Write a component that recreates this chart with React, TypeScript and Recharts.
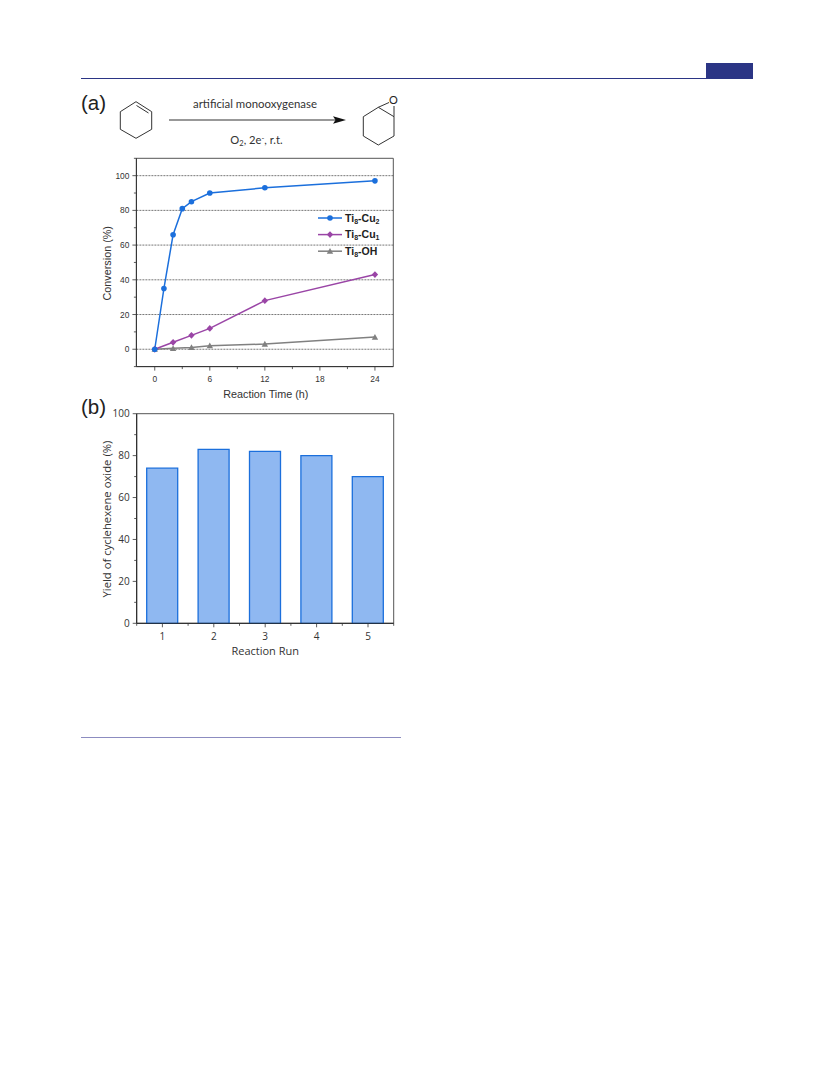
import React from 'react'
import {
  LineChart, Line, BarChart, Bar, XAxis, YAxis, CartesianGrid, ReferenceArea, Legend,
} from 'recharts'

// panel (a)
const timesCu2 = [0, 1, 2, 3, 4, 6, 12, 24]
const valuesCu2 = [0, 35, 66, 81, 85, 90, 93, 97]
const timesCu1 = [0, 2, 4, 6, 12, 24]
const valuesCu1 = [0, 4, 8, 12, 28, 43]
const timesOH = [0, 2, 4, 6, 12, 24]
const valuesOH = [0, 0.5, 1, 2, 3, 7]
const timeTicks = [0, 3, 6, 9, 12, 15, 18, 21, 24]
const timeLabels = [0, 6, 12, 18, 24]
const convTicks = [-10, 0, 10, 20, 30, 40, 50, 60, 70, 80, 90, 100, 110]
const convLabels = [0, 20, 40, 60, 80, 100]

// panel (b)
const runs = [1, 2, 3, 4, 5]
const yields = [74, 83, 82, 80, 70]
const runTicks = [0.5, 1, 1.5, 2, 2.5, 3, 3.5, 4, 4.5, 5, 5.5]
const runLabels = [1, 2, 3, 4, 5]
const yieldTicks = [0, 10, 20, 30, 40, 50, 60, 70, 80, 90, 100]
const yieldLabels = [0, 20, 40, 60, 80, 100]

const BLUE = '#1b6fdc'
const PURPLE = '#9a45a6'
const GRAY = '#808080'
const AXIS = '#333'
const NAVY = '#2b3585'
const ARIAL = '"Liberation Sans", Arial, sans-serif'
const SEGOE = '"Open Sans", sans-serif'
const CALIBRI = 'Lato, sans-serif'

const cu2Data = timesCu2.map((t, i) => ({ t, v: valuesCu2[i] }))
const cu1Data = timesCu1.map((t, i) => ({ t, v: valuesCu1[i] }))
const ohData = timesOH.map((t, i) => ({ t, v: valuesOH[i] }))
const runData = runs.map((r, i) => ({ r, v: yields[i] }))

const legendRows = [
  { sub: '2', tail: '', shape: 'circle', color: BLUE },
  { sub: '1', tail: '', shape: 'diamond', color: PURPLE },
  { sub: '', tail: 'OH', shape: 'triangle', color: GRAY },
]

function marker(shape: string, cx: number, cy: number, color: string, key?: any) {
  if (shape === 'diamond') {
    return <path key={key} d={`M${cx} ${cy - 3.4}L${cx + 3.2} ${cy}L${cx} ${cy + 3.4}L${cx - 3.2} ${cy}Z`} fill={color} />
  }
  if (shape === 'triangle') {
    return <path key={key} d={`M${cx} ${cy - 3.2}L${cx + 3.2} ${cy + 2.6}L${cx - 3.2} ${cy + 2.6}Z`} fill={color} />
  }
  return <circle key={key} cx={cx} cy={cy} r={2.8} fill={color} />
}

const dotOf = (shape: string, color: string) => (p: any) => marker(shape, p.cx, p.cy, color, p.index)

const xTick = (labels: number[], font: string, size: number, gap: number) => (p: any) => {
  const major = labels.includes(p.payload.value)
  return (
    <g>
      <line x1={p.x} x2={p.x} y1={p.y - 8} y2={p.y - 8 + (major ? 4 : 2.5)} stroke={AXIS} strokeWidth={0.8} />
      {major && (
        <text x={p.x} y={p.y + gap} textAnchor="middle" fontFamily={font} fontSize={size} fill="#333">
          {p.payload.value}
        </text>
      )}
    </g>
  )
}

const yTick = (labels: number[], font: string, size: number) => (p: any) => {
  const major = labels.includes(p.payload.value)
  return (
    <g>
      <line x1={p.x + 8} x2={p.x + 8 - (major ? 4 : 2.5)} y1={p.y} y2={p.y} stroke={AXIS} strokeWidth={0.8} />
      {major && (
        <text x={p.x + 1} y={p.y + size * 0.36} textAnchor="end" fontFamily={font} fontSize={size} fill="#333">
          {p.payload.value}
        </text>
      )}
    </g>
  )
}

function LegendBox() {
  return (
    <svg width={90} height={52} style={{ display: 'block' }}>
      {legendRows.map((row, i) => {
        const y = 8 + i * 16.6
        return (
          <g key={i}>
            <line x1={0} x2={24} y1={y} y2={y} stroke={row.color} strokeWidth={1.5} />
            {marker(row.shape, 12, y, row.color)}
            <text x={27} y={y + 3.6} fontFamily={ARIAL} fontSize={10.5} fontWeight="bold" fill="#222">
              Ti<tspan fontSize={7} dy={2}>8</tspan>
              <tspan dy={-2}>-{row.sub ? 'Cu' : row.tail}</tspan>
              {row.sub && <tspan fontSize={7} dy={2}>{row.sub}</tspan>}
            </text>
          </g>
        )
      })}
    </svg>
  )
}

function PageDecor() {
  return (
    <svg width={833} height={1091} style={{ position: 'absolute', left: 0, top: 0 }}>
      <rect x={706} y={63} width={47} height={15} fill={NAVY} />
      <line x1={81} x2={753} y1={78.5} y2={78.5} stroke={NAVY} strokeWidth={1} />
      <line x1={81} x2={401} y1={737.5} y2={737.5} stroke="#8c8cc0" strokeWidth={1} />

      <text x={81} y={110} fontFamily={ARIAL} fontSize={20.5} fill="#222">(a)</text>
      <text x={81} y={414} fontFamily={ARIAL} fontSize={20.5} fill="#222">(b)</text>

      <g fill="none" stroke="#333" strokeWidth={1}>
        <path d="M136 101.7L151.7 111.7V129.3L136 138.3L120.3 129.3V111.7Z" />
        <path d="M136.5 105.5L148.5 113" />
        <path d="M378.3 107.3L394 116.7V136L378.3 145L363.3 136V116.7Z" />
        <path d="M378.3 107.3L389 102.5M394 116.7V106" />
      </g>
      <text x={393.5} y={104} textAnchor="middle" fontFamily={CALIBRI} fontSize={11} fill="#222">O</text>

      <line x1={169} x2={338} y1={120} y2={120} stroke="#333" strokeWidth={1.2} />
      <path d="M346 120L333 116.3L335.5 120L333 123.7Z" fill="#111" />
      <text x={255} y={108} textAnchor="middle" fontFamily={CALIBRI} fontSize={11.4} fill="#333">
        artificial monooxygenase
      </text>
      <text x={256.5} y={144} textAnchor="middle" fontFamily={CALIBRI} fontSize={11.2} fill="#333">
        O<tspan fontSize={7.5} dy={2}>2</tspan><tspan dy={-2}>, 2e</tspan>
        <tspan fontSize={7.5} dy={-3}>-</tspan><tspan dy={3}>, r.t.</tspan>
      </text>
    </svg>
  )
}

function ConversionChart() {
  return (
    <div style={{ position: 'absolute', left: 90, top: 150 }}>
      <LineChart width={320} height={260} margin={{ top: 8.3, right: 16.7, bottom: 0, left: 0 }}>
        <CartesianGrid vertical={false} horizontalValues={convLabels} stroke="#555" strokeWidth={0.8} strokeDasharray="2 1" />
        <ReferenceArea x1={-2} x2={26} y1={-10} y2={110} fill="none" stroke="#555" strokeWidth={1} ifOverflow="extendDomain" />
        <XAxis
          dataKey="t" type="number" domain={[-2, 26]} ticks={timeTicks} interval={0} height={43.4}
          axisLine={{ stroke: AXIS, strokeWidth: 1 }} tickLine={false}
          tick={xTick(timeLabels, ARIAL, 8.4, 7)}
          label={{ value: 'Reaction Time (h)', position: 'insideBottom', offset: 12, dx: 1, fontFamily: ARIAL, fontSize: 10.8, fill: '#333' }}
        />
        <YAxis
          type="number" domain={[-10, 110]} ticks={convTicks} interval={0} width={46.4}
          axisLine={{ stroke: AXIS, strokeWidth: 1 }} tickLine={false}
          tick={yTick(convLabels, ARIAL, 8.4)}
          label={{ value: 'Conversion (%)', angle: -90, position: 'insideLeft', offset: 17, dy: 38, fontFamily: ARIAL, fontSize: 10.8, fill: '#333' }}
        />
        <Line data={ohData} dataKey="v" stroke={GRAY} strokeWidth={1.5} dot={dotOf('triangle', GRAY)} isAnimationActive={false} />
        <Line data={cu1Data} dataKey="v" stroke={PURPLE} strokeWidth={1.5} dot={dotOf('diamond', PURPLE)} isAnimationActive={false} />
        <Line data={cu2Data} dataKey="v" stroke={BLUE} strokeWidth={1.5} dot={dotOf('circle', BLUE)} isAnimationActive={false} />
        <Legend
          layout="horizontal" verticalAlign="middle" align="center" content={() => <LegendBox />}
          wrapperStyle={{ position: 'absolute', left: 228, top: 60, width: 90, height: 52, bottom: 'auto' }}
        />
      </LineChart>
    </div>
  )
}

function YieldChart() {
  return (
    <div style={{ position: 'absolute', left: 90, top: 405 }}>
      <BarChart width={320} height={255} data={runData} margin={{ top: 8.7, right: 16.3, bottom: 0, left: 0 }}>
        <ReferenceArea x1={0.5} x2={5.5} y1={0} y2={100} fill="none" stroke="#555" strokeWidth={1} />
        <XAxis
          dataKey="r" type="number" domain={[0.5, 5.5]} ticks={runTicks} interval={0} height={36.7}
          axisLine={{ stroke: '#222', strokeWidth: 1 }} tickLine={false}
          tick={xTick(runLabels, SEGOE, 10, 8.5)}
          label={{ value: 'Reaction Run', position: 'insideBottom', offset: 5, fontFamily: SEGOE, fontSize: 11, fill: '#333' }}
        />
        <YAxis
          type="number" domain={[0, 100]} ticks={yieldTicks} interval={0} width={46.7}
          axisLine={{ stroke: '#222', strokeWidth: 1 }} tickLine={false}
          tick={yTick(yieldLabels, SEGOE, 10)}
          label={{ value: 'Yield of cyclehexene oxide (%)', angle: -90, position: 'insideLeft', offset: 17, dy: 79, fontFamily: SEGOE, fontSize: 11.3, fill: '#333' }}
        />
        <Bar dataKey="v" barSize={31} fill="#8fb8f1" stroke={BLUE} strokeWidth={1.3} isAnimationActive={false} />
      </BarChart>
    </div>
  )
}

export default function App() {
  return (
    <div style={{ position: 'absolute', left: 0, top: 0, width: 833, height: 1091, background: '#fff' }}>
      <PageDecor />
      <ConversionChart />
      <YieldChart />
    </div>
  )
}
